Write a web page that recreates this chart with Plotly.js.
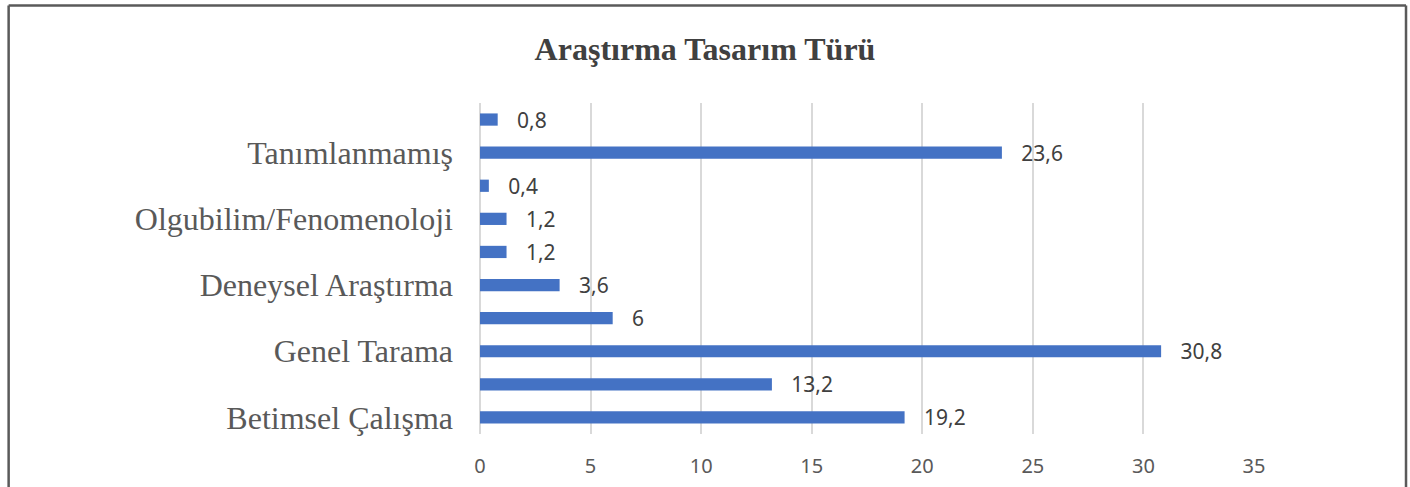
<!DOCTYPE html>
<html>
<head>
<meta charset="utf-8">
<script src="https://cdn.plot.ly/plotly-3.0.1.min.js"></script>
<style>html,body{margin:0;padding:0;background:#fff;}#chart{width:1410px;height:487px;}</style>
</head>
<body>
<div id="chart"></div>
<script>
// Categories top to bottom (Excel shows only every other label)
const categories = [
  "Kategori 1", "Tanımlanmamış",
  "Kategori 3", "Olgubilim/Fenomenoloji",
  "Kategori 5", "Deneysel Araştırma",
  "Kategori 7", "Genel Tarama",
  "Kategori 9", "Betimsel Çalışma"
];
const values = [0.8, 23.6, 0.4, 1.2, 1.2, 3.6, 6, 30.8, 13.2, 19.2];
const shownLabels = ["Tanımlanmamış", "Olgubilim/Fenomenoloji", "Deneysel Araştırma", "Genel Tarama", "Betimsel Çalışma"];
const xTicks = [0, 5, 10, 15, 20, 25, 30, 35];
const chartTitle = "Araştırma Tasarım Türü";

const trace = {
  type: "bar",
  orientation: "h",
  y: categories,
  x: values,
  marker: { color: "#4472C4" },
  texttemplate: "\u00a0\u00a0\u00a0%{x}",
  textposition: "outside",
  constraintext: "none",
  cliponaxis: false,
  textfont: { family: "Noto Sans, sans-serif", size: 21, color: "#404040" },
  hoverinfo: "none"
};

const layout = {
  width: 1410, height: 487,
  margin: { l: 480, r: 156, t: 103, b: 53 },
  paper_bgcolor: "#ffffff",
  plot_bgcolor: "#ffffff",
  separators: ",.",
  showlegend: false,
  bargap: 0.63,
  title: {
    text: "<b>" + chartTitle + "</b>",
    x: 0.5, xref: "container", xanchor: "center",
    y: 1 - 49 / 487, yref: "container", yanchor: "middle",
    font: { family: "Liberation Serif, serif", size: 32, color: "#404040" }
  },
  xaxis: {
    range: [0, 35],
    tickvals: xTicks,
    showgrid: true, gridcolor: "#d9d9d9", gridwidth: 2,
    zeroline: true, zerolinecolor: "#d9d9d9", zerolinewidth: 2,
    showline: false, ticks: "",
    ticklabelstandoff: 18,
    tickfont: { family: "Noto Sans, sans-serif", size: 20, color: "#595959" },
    fixedrange: true
  },
  yaxis: {
    type: "category",
    categoryorder: "array",
    categoryarray: categories,
    autorange: "reversed",
    tickmode: "array",
    tickvals: shownLabels,
    ticktext: shownLabels,
    showgrid: false, zeroline: false, showline: false, ticks: "",
    ticklabelstandoff: 26,
    tickfont: { family: "Liberation Serif, serif", size: 32, color: "#595959" },
    fixedrange: true
  },
  shapes: [
    { type: "line", xref: "paper", yref: "paper", x0: -0.609, x1: 1.1964, y0: 1.2946, y1: 1.2946, line: { color: "#5a5a5a", width: 2.5 } },
    { type: "line", xref: "paper", yref: "paper", x0: -0.609, x1: -0.609, y0: 1.2946, y1: -0.25, line: { color: "#5a5a5a", width: 2.5 } },
    { type: "line", xref: "paper", yref: "paper", x0: 1.1964, x1: 1.1964, y0: 1.2946, y1: -0.25, line: { color: "#5a5a5a", width: 2.5 } }
  ]
};

Plotly.newPlot("chart", [trace], layout, { displayModeBar: false, staticPlot: true });
</script>
</body>
</html>
